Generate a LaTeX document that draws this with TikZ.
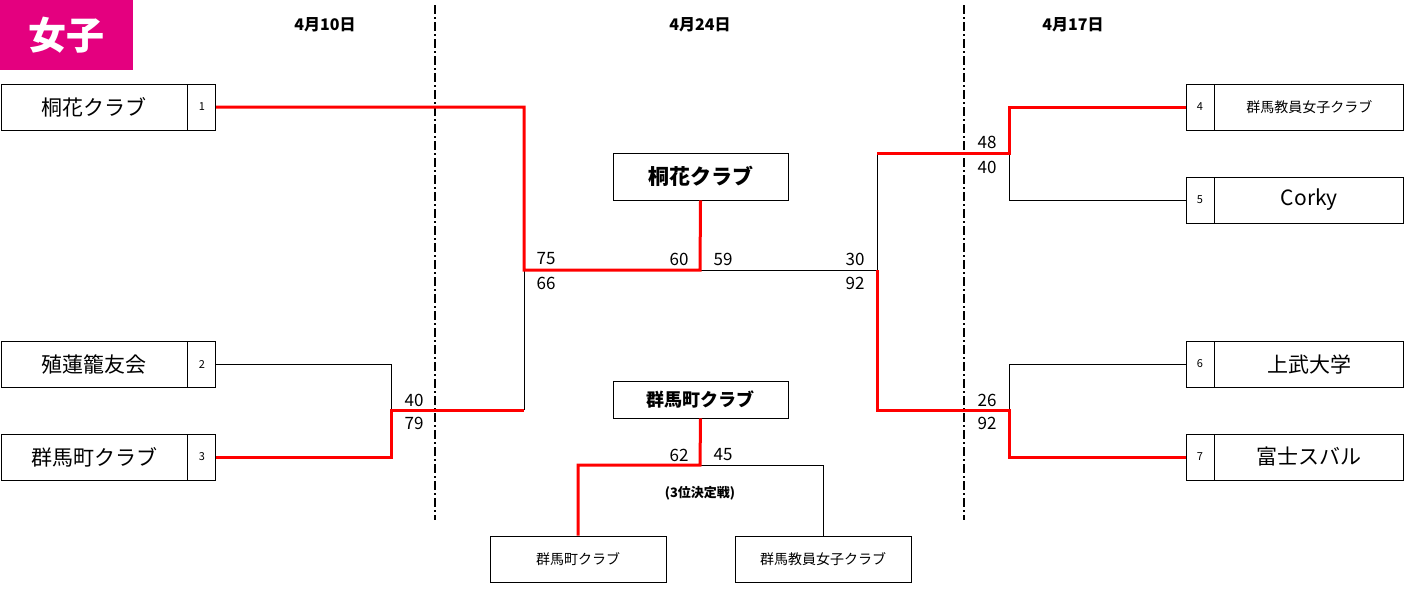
\documentclass[tikz,border=0pt]{standalone}
\usepackage{fontspec}
\setmainfont{Noto Sans CJK JP}
\usetikzlibrary{positioning}
\definecolor{title}{HTML}{E4007F}

\begin{document}
\begin{tikzpicture}[x=1pt,y=-1pt,
    every node/.style={inner sep=0pt},
    namebox/.style={draw,thick,minimum height=46pt,font=\fontsize{21}{21}\selectfont},
    numbox/.style={draw,thick,minimum width=28pt,minimum height=46pt,font=\fontsize{11}{11}\selectfont},
    smallname/.style={font=\fontsize{14}{14}\selectfont},
    score/.style={font=\fontsize{17}{17}\selectfont},
    date/.style={font=\bfseries\fontsize{16}{16}\selectfont},
    win/.style={red,line width=3pt},
    lose/.style={black,line width=0.9pt},
    sep/.style={line width=2pt,dash pattern=on 9pt off 3pt on 2pt off 3pt}]
  \useasboundingbox (0,0) rectangle (1404,590);

  % Title and dates.
  \node[fill=title,text=white,minimum width=133pt,minimum height=70pt,
        font=\bfseries\fontsize{38}{38}\selectfont] (ttl) at (66.5,35) {女子};
  \node[date] (d1) at (325,25) {4月10日};
  \node[date] (d2) at (700,25) {4月24日};
  \node[date] (d3) at (1073,25) {4月17日};
  \draw[sep] (435,5) -- (435,520);
  \draw[sep] (964,5) -- (964,520);

  % Left teams.
  \foreach \n/\name/\y in {1/桐花クラブ/107,2/殖蓮籠友会/364,3/群馬町クラブ/457}{
    \node[namebox,minimum width=186pt] (l\n) at (94,\y) {\name};
    \node[numbox,right=0pt of l\n] (ln\n) {\n};
  }

  % Right teams.
  \node[numbox] (rn4) at (1200,107) {4};
  \node[namebox,minimum width=189pt,right=0pt of rn4,smallname] (r4) {群馬教員女子クラブ};
  \foreach \n/\name/\y in {5/Corky/200,6/上武大学/364,7/富士スバル/457}{
    \node[numbox] (rn\n) at (1200,\y) {\n};
    \node[namebox,minimum width=189pt,right=0pt of rn\n] (r\n) {\name};
  }

  % Winners and third place.
  \node[namebox,minimum width=175pt,minimum height=47pt,font=\bfseries\fontsize{21}{21}\selectfont] (champ) at (700.5,176.5) {桐花クラブ};
  \node[namebox,minimum width=175pt,minimum height=37pt,font=\bfseries\fontsize{18}{18}\selectfont] (third) at (700.5,399.5) {群馬町クラブ};
  \node[font=\bfseries\fontsize{13}{13}\selectfont] (tlbl) at (700,493) {(3位決定戦)};
  \node[namebox,minimum width=176pt,smallname] (b1) at (578,559) {群馬町クラブ};
  \node[namebox,minimum width=176pt,smallname] (b2) at (823,559) {群馬教員女子クラブ};

  % Junctions.
  \coordinate (jl) at (391,410);
  \coordinate (jc) at (524,270);
  \coordinate (jf) at (700,270);
  \coordinate (jr) at (877,270);
  \coordinate (ju) at (1009,153);
  \coordinate (jd) at (1009,410);
  \coordinate (jt) at (700,465);

  % Bracket lines.
  \draw[lose] (ln2.east) -| (jl);
  \draw[lose] (524,410) -- (jc);
  \draw[lose] (jf) -- (jr) -- (877,153);
  \draw[lose] (rn5.west) -| (ju);
  \draw[lose] (rn6.west) -| (jd);
  \draw[lose] (jt) -| (b2.north);
  \draw[win] (ln3.east) -| (jl) -- (524,410);
  \draw[win] (ln1.east) -| (jc) -- (jf) -- (champ.south);
  \draw[win] (rn4.west) -| (ju) -- (877,153);
  \draw[win] (rn7.west) -| (jd) -- (877,410) -- (jr);
  \draw[win] (third.south) -- (jt) -| (b1.north);

  % Scores.
  \foreach \s/\x/\y in {40/414/400,79/414/423,75/546/259,66/546/283,60/679/259,59/723/259,
                        30/855/259,92/855/283,48/987/142,40/987/167,26/987/400,92/987/423,
                        62/679/455,45/723/455}{
    \node[score] at (\x,\y) {\s};
  }
\end{tikzpicture}
\end{document}
